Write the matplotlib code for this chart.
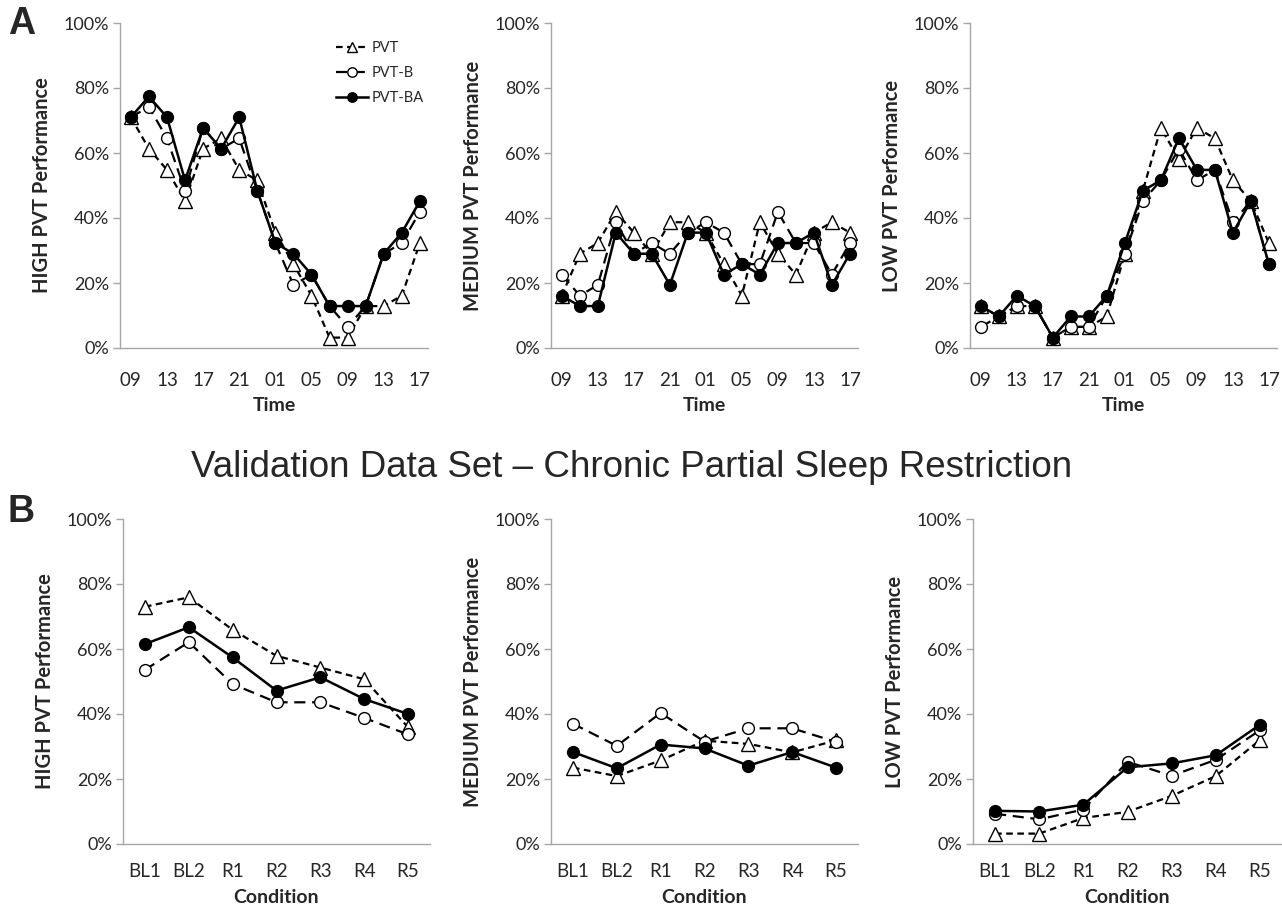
import matplotlib
matplotlib.use("Agg")
import matplotlib.pyplot as plt
from matplotlib.ticker import FixedLocator, FuncFormatter

plt.rcParams['font.family'] = ['Lato', 'DejaVu Sans']

# ---------------- data ----------------
time_labels = ["09", "11", "13", "15", "17", "19", "21", "23", "01", "03", "05", "07", "09", "11", "13", "15", "17"]
conditions = ["BL1", "BL2", "R1", "R2", "R3", "R4", "R5"]
series_names = ["PVT", "PVT-B", "PVT-BA"]

# Panel A (time course), values in %
high_pvt    = [71.0, 61.3, 54.8, 45.2, 61.3, 64.5, 54.8, 51.6, 35.5, 25.8, 16.1, 3.2, 3.2, 12.9, 12.9, 16.1, 32.3]
high_pvtb   = [71.0, 74.2, 64.5, 48.4, 67.7, 61.3, 64.5, 48.4, 32.3, 19.4, 22.6, 12.9, 6.5, 12.9, 29.0, 32.3, 41.9]
high_pvtba  = [71.0, 77.4, 71.0, 51.6, 67.7, 61.3, 71.0, 48.4, 32.3, 29.0, 22.6, 12.9, 12.9, 12.9, 29.0, 35.5, 45.2]

med_pvt     = [16.1, 29.0, 32.3, 41.9, 35.5, 29.0, 38.7, 38.7, 35.5, 25.8, 16.1, 38.7, 29.0, 22.6, 35.5, 38.7, 35.5]
med_pvtb    = [22.6, 16.1, 19.4, 38.7, 29.0, 32.3, 29.0, 35.5, 38.7, 35.5, 25.8, 25.8, 41.9, 32.3, 32.3, 22.6, 32.3]
med_pvtba   = [16.1, 12.9, 12.9, 35.5, 29.0, 29.0, 19.4, 35.5, 35.5, 22.6, 25.8, 22.6, 32.3, 32.3, 35.5, 19.4, 29.0]

low_pvt     = [12.9, 9.7, 12.9, 12.9, 3.2, 6.5, 6.5, 9.7, 29.0, 48.4, 67.7, 58.1, 67.7, 64.5, 51.6, 45.2, 32.3]
low_pvtb    = [6.5, 9.7, 12.9, 12.9, 3.2, 6.5, 6.5, 16.1, 29.0, 45.2, 51.6, 61.3, 51.6, 54.8, 38.7, 45.2, 25.8]
low_pvtba   = [12.9, 9.7, 16.1, 12.9, 3.2, 9.7, 9.7, 16.1, 32.3, 48.4, 51.6, 64.5, 54.8, 54.8, 35.5, 45.2, 25.8]

# Panel B (conditions), values in %
b_high_pvt   = [73.0, 75.9, 65.9, 57.9, 54.3, 50.7, 35.9]
b_high_pvtb  = [53.6, 62.1, 49.2, 43.6, 43.6, 38.8, 33.7]
b_high_pvtba = [61.5, 66.7, 57.4, 47.2, 51.3, 44.6, 40.0]

b_med_pvt    = [23.5, 20.9, 25.7, 31.8, 30.8, 28.2, 31.9]
b_med_pvtb   = [37.0, 30.2, 40.3, 31.5, 35.6, 35.6, 31.4]
b_med_pvtba  = [28.3, 23.3, 30.6, 29.4, 24.1, 28.3, 23.5]

b_low_pvt    = [3.2, 3.2, 8.0, 9.9, 14.8, 20.9, 32.0]
b_low_pvtb   = [9.3, 7.6, 10.6, 25.3, 21.0, 25.9, 35.0]
b_low_pvtba  = [10.2, 10.0, 12.1, 23.6, 24.8, 27.3, 36.7]

title_text = "Validation Data Set \u2013 Chronic Partial Sleep Restriction"

# ---------------- layout ----------------
W, H = 1282, 911
fig = plt.figure(figsize=(W / 100, H / 100), dpi=100)

def add_ax(left, right, top, bottom):
    return fig.add_axes([left / W, 1 - bottom / H, (right - left) / W, (bottom - top) / H])

styles = [
    dict(ls=(0, (3, 2)), marker='^', mfc='white', mec='black', ms=9.5, lw=1.6, color='black'),
    dict(ls=(0, (5, 3)), marker='o', mfc='white', mec='black', ms=8.5, lw=1.6, color='black'),
    dict(ls='-', marker='o', mfc='black', mec='black', ms=8.5, lw=1.8, color='black'),
]

axis_gray = '#a6a6a6'
text_col = '#262626'

def style_axis(ax, ylabel, xlabel, xpad, xlabpad):
    ax.set_ylim(0, 100)
    ax.yaxis.set_major_locator(FixedLocator([0, 20, 40, 60, 80, 100]))
    ax.yaxis.set_major_formatter(FuncFormatter(lambda v, p: f"{int(v)}%"))
    for s in ['top', 'right']:
        ax.spines[s].set_visible(False)
    for s in ['left', 'bottom']:
        ax.spines[s].set_color(axis_gray)
        ax.spines[s].set_linewidth(1.0)
    ax.tick_params(axis='y', colors=axis_gray, length=5, width=1.0, labelsize=13, labelcolor=text_col, pad=3)
    ax.tick_params(axis='x', length=0, labelsize=13.5, labelcolor=text_col, pad=xpad)
    ax.set_ylabel(ylabel, fontsize=14.5, fontweight='bold', color=text_col, labelpad=8)
    ax.set_xlabel(xlabel, fontsize=14, fontweight='bold', color=text_col, labelpad=xlabpad)

def draw(ax, xs, ys_list):
    lines = []
    for ys, st, name in zip(ys_list, styles, series_names):
        l, = ax.plot(xs, ys, label=name, clip_on=False, **st)
        lines.append(l)
    return lines

# Top row
top_cols = [(120, 428), (551, 858), (970, 1277)]
top_data = [
    ("HIGH PVT Performance", [high_pvt, high_pvtb, high_pvtba]),
    ("MEDIUM PVT Performance", [med_pvt, med_pvtb, med_pvtba]),
    ("LOW PVT Performance", [low_pvt, low_pvtb, low_pvtba]),
]
xs_t = list(range(len(time_labels)))
top_axes = []
for (l, r), (lab, ys) in zip(top_cols, top_data):
    ax = add_ax(l, r, 23, 348)
    lines = draw(ax, xs_t, ys)
    ax.set_xlim(-0.6, 16.45)
    ax.set_xticks(xs_t[::2])
    ax.set_xticklabels(time_labels[::2])
    style_axis(ax, lab, "Time", 17, 6)
    top_axes.append((ax, lines))

ax0, lines0 = top_axes[0]
leg = ax0.legend(handles=lines0, loc='upper right', bbox_to_anchor=(1.03, 0.985), frameon=False,
                 fontsize=10.5, handlelength=2.2, handletextpad=0.3, labelspacing=0.75,
                 markerscale=0.8)
for t in leg.get_texts():
    t.set_color(text_col)

# Bottom row
bot_cols = [(123, 430), (551, 858), (973, 1282)]
bot_data = [
    ("HIGH PVT Performance", [b_high_pvt, b_high_pvtb, b_high_pvtba]),
    ("MEDIUM PVT Performance", [b_med_pvt, b_med_pvtb, b_med_pvtba]),
    ("LOW PVT Performance", [b_low_pvt, b_low_pvtb, b_low_pvtba]),
]
xs_b = list(range(len(conditions)))
for (l, r), (lab, ys) in zip(bot_cols, bot_data):
    ax = add_ax(l, r, 519, 844)
    draw(ax, xs_b, ys)
    ax.set_xlim(-0.5, 6.5)
    ax.set_xticks(xs_b)
    ax.set_xticklabels(conditions)
    style_axis(ax, lab, "Condition", 14, 6)

fig.text(632 / W, 1 - 467 / H, title_text, ha='center', va='center', fontsize=26.5,
         family=['Liberation Sans', 'DejaVu Sans'], color=text_col)
fig.text(8 / W, 1 - 24 / H, "A", ha='left', va='center', fontsize=27, fontweight='bold', color=text_col,
         family=['Liberation Sans', 'DejaVu Sans'])
fig.text(8 / W, 1 - 512 / H, "B", ha='left', va='center', fontsize=27, fontweight='bold', color=text_col,
         family=['Liberation Sans', 'DejaVu Sans'])

fig.savefig("out.png", dpi=100)
